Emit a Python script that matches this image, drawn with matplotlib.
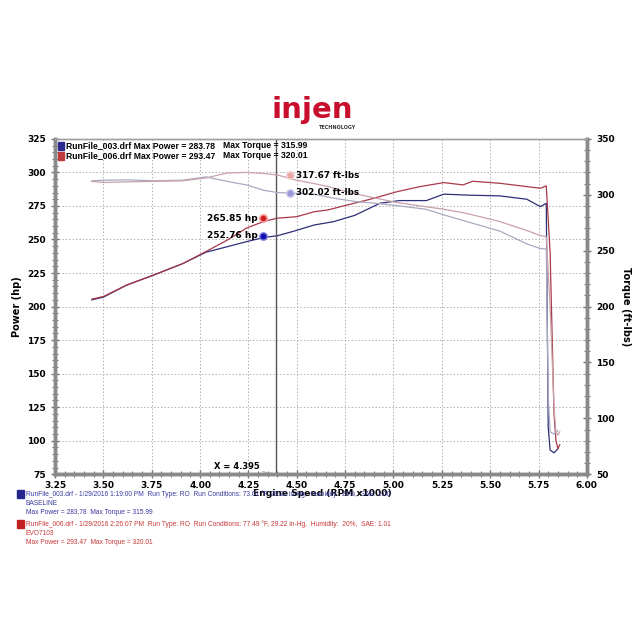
import numpy as np
import matplotlib.pyplot as plt
from matplotlib.ticker import MultipleLocator

# run 006 (red) - power and torque vs engine speed (RPM x1000)
rpm_006 = [3.44, 3.50, 3.62, 3.76, 3.91, 4.03, 4.14, 4.24, 4.33, 4.40, 4.50, 4.59, 4.66,
           4.76, 4.88, 5.02, 5.14, 5.26, 5.36, 5.41, 5.55, 5.69, 5.76, 5.79, 5.81, 5.83,
           5.84, 5.85, 5.86]
hp_006 = [205.5, 207.5, 216, 223.5, 232, 241, 249.5, 258.5, 263.5, 265.9, 267, 270.7, 272,
          275.7, 280, 285.7, 289.5, 292.4, 290.7, 293.4, 291.9, 289.4, 288.2, 290, 240, 120,
          100, 94, 97]
tq_006 = [312, 311, 311.5, 312, 312.5, 315, 319.5, 320, 319, 317.7, 313, 310, 307.5,
          302.5, 298, 293, 290, 287, 284, 282, 276, 268, 263.5, 262.5, 200, 110,
          88, 85, 88]

# run 003 (blue)
rpm_003 = [3.44, 3.50, 3.62, 3.76, 3.91, 4.03, 4.14, 4.24, 4.33, 4.40, 4.48, 4.59, 4.69,
           4.80, 4.93, 5.03, 5.17, 5.26, 5.40, 5.55, 5.69, 5.74, 5.76, 5.79, 5.80, 5.81,
           5.83, 5.85]
hp_003 = [205, 207, 216, 223.5, 232, 240.5, 244.6, 248.4, 251.5, 252.8, 256, 260.8, 263.3,
          268, 277, 279, 279, 283.8, 283, 282.5, 280, 276, 274.5, 277, 110, 93, 91, 94]
tq_003 = [312.5, 313, 313.3, 312.5, 313, 316, 312, 308.8, 304, 302, 301.4, 300.5, 297,
          294, 292, 290, 287, 282, 275, 267.5, 256, 253, 252, 251.5, 120, 88, 86, 89]

cursor_x = 4.395
hp_at_cursor = [265.85, 252.76]
tq_at_cursor = [317.67, 302.02]

c_red_hp = '#a8394a'
c_blue_hp = '#2e2e78'
c_red_tq = '#c9a2aa'
c_blue_tq = '#a9a9c2'

fig = plt.figure(figsize=(6.4, 6.4), dpi=100)
ax = fig.add_axes([0.086, 0.259, 0.831, 0.524])
ax2 = ax.twinx()

ax.plot(rpm_003, hp_003, color=c_blue_hp, lw=0.9)
ax.plot(rpm_006, hp_006, color=c_red_hp, lw=0.9)
ax2.plot(rpm_003, tq_003, color=c_blue_tq, lw=0.9)
ax2.plot(rpm_006, tq_006, color=c_red_tq, lw=0.9)

ax.set_xlim(3.25, 6.0)
ax.set_ylim(75, 325)
ax2.set_ylim(50, 350)

ax.xaxis.set_major_locator(MultipleLocator(0.25))
ax.xaxis.set_minor_locator(MultipleLocator(0.05))
ax.yaxis.set_major_locator(MultipleLocator(25))
ax.yaxis.set_minor_locator(MultipleLocator(5))
ax2.yaxis.set_major_locator(MultipleLocator(50))
ax2.yaxis.set_minor_locator(MultipleLocator(10))
ax.xaxis.set_major_formatter(lambda v, p: '%.2f' % v)

ax.grid(True, which='major', ls=(0, (1.5, 2)), color='#b0b0b0', lw=0.7)
ax.set_axisbelow(True)

for a in (ax, ax2):
    for side in ('left', 'right', 'bottom'):
        a.spines[side].set_color('#8a8a8a')
        a.spines[side].set_linewidth(2.5)
    a.spines['top'].set_color('#a0a0a0')
    a.spines['top'].set_linewidth(1)
    a.tick_params(which='major', direction='inout', length=6, width=1, color='#777777',
                  labelsize=6.5)
    a.tick_params(which='minor', direction='inout', length=4, width=0.8, color='#777777')
for lbl in ax.get_xticklabels() + ax.get_yticklabels() + ax2.get_yticklabels():
    lbl.set_fontweight('bold')
ax.tick_params(axis='x', pad=2)

ax.set_ylabel('Power (hp)', fontsize=7, fontweight='bold', labelpad=4)
ax2.set_ylabel('Torque (ft-lbs)', fontsize=7, fontweight='bold', rotation=270, labelpad=12)
fig.text(0.503, 0.229, 'Engine Speed (RPM x1000)', fontsize=6.6, fontweight='bold',
         ha='center', va='center')

# cursor
ax.axvline(cursor_x, color='#555555', lw=1)
ax.annotate('X = %.3f' % cursor_x, xy=(cursor_x, 75), xytext=(4.19, 80.5),
            fontsize=6, fontweight='bold', ha='center', va='center',
            arrowprops=dict(arrowstyle='-', color='#aaaaaa', lw=0.7,
                            shrinkA=13, shrinkB=0))

# value markers
ax.scatter([4.326], [hp_at_cursor[0]], s=28, color='#d02020', edgecolors='#f2a0a0',
           linewidths=1.2, zorder=5)
ax.scatter([4.326], [hp_at_cursor[1]], s=28, color='#1010b0', edgecolors='#8080e0',
           linewidths=1.0, zorder=5)
ax2.scatter([4.466], [tq_at_cursor[0]], s=28, color='#e8a8a8', edgecolors='#f6d0d0',
            linewidths=1.0, zorder=5)
ax2.scatter([4.466], [tq_at_cursor[1]], s=28, color='#9898d8', edgecolors='#c8c8f0',
            linewidths=1.0, zorder=5)
ax.text(4.298, hp_at_cursor[0], '%.2f hp' % hp_at_cursor[0], fontsize=6.5,
        fontweight='bold', ha='right', va='center')
ax.text(4.298, hp_at_cursor[1], '%.2f hp' % hp_at_cursor[1], fontsize=6.5,
        fontweight='bold', ha='right', va='center')
ax2.text(4.495, tq_at_cursor[0], '%.2f ft-lbs' % tq_at_cursor[0], fontsize=6.3,
         fontweight='bold', ha='left', va='center')
ax2.text(4.495, tq_at_cursor[1], '%.2f ft-lbs' % tq_at_cursor[1], fontsize=6.3,
         fontweight='bold', ha='left', va='center')

# legend lines inside axes
leg_rows = [('RunFile_003.drf', 283.78, 315.99, '#2a2a90'),
            ('RunFile_006.drf', 293.47, 320.01, '#c03a3a')]
for i, (name, mp, mt, col) in enumerate(leg_rows):
    y = 0.979 - i * 0.030
    ax.add_patch(plt.Rectangle((0.006, y - 0.011), 0.011, 0.022, transform=ax.transAxes,
                               color=col, clip_on=False, zorder=6))
    ax.text(0.021, y, '%s Max Power = %.2f' % (name, mp), transform=ax.transAxes,
            fontsize=6.2, fontweight='bold', va='center', family='Liberation Sans')
    ax.text(0.316, y, 'Max Torque = %.2f' % mt, transform=ax.transAxes,
            fontsize=6.2, fontweight='bold', va='center', family='Liberation Sans')

# logo
fig.text(0.488, 0.828, 'injen', fontsize=21, fontweight='bold', color='#c8102e',
         ha='center', va='center', family='DejaVu Sans')
fig.text(0.528, 0.801, 'TECHNOLOGY', fontsize=3.5, fontweight='bold', color='#333333',
         ha='center', va='center')

# run info below chart
info = [
    ('#25258a', '#3a3aa0', 494,
     ['RunFile_003.drf - 1/29/2016 1:19:00 PM  Run Type: RO  Run Conditions: 73.01 \u00b0F, '
      '29.22 in-Hg,  Humidity:  21%,  SAE: 1.00',
      'BASELINE',
      'Max Power = 283.78  Max Torque = 315.99']),
    ('#c02020', '#c83838', 524,
     ['RunFile_006.drf - 1/29/2016 2:26:07 PM  Run Type: RO  Run Conditions: 77.49 \u00b0F, '
      '29.22 in-Hg,  Humidity:  20%,  SAE: 1.01',
      'EVO7103',
      'Max Power = 293.47  Max Torque = 320.01']),
]
for box_col, txt_col, ypx, lines in info:
    y0 = 1 - ypx / 640
    fig.patches.append(plt.Rectangle((0.027, y0 - 0.007), 0.010, 0.014,
                                     transform=fig.transFigure, color=box_col))
    for j, line in enumerate(lines):
        fig.text(0.040, y0 - j * 0.0148, line, fontsize=4.8, color=txt_col, va='center',
                 family='Liberation Sans')

fig.savefig('out.png', dpi=100, facecolor='white')
